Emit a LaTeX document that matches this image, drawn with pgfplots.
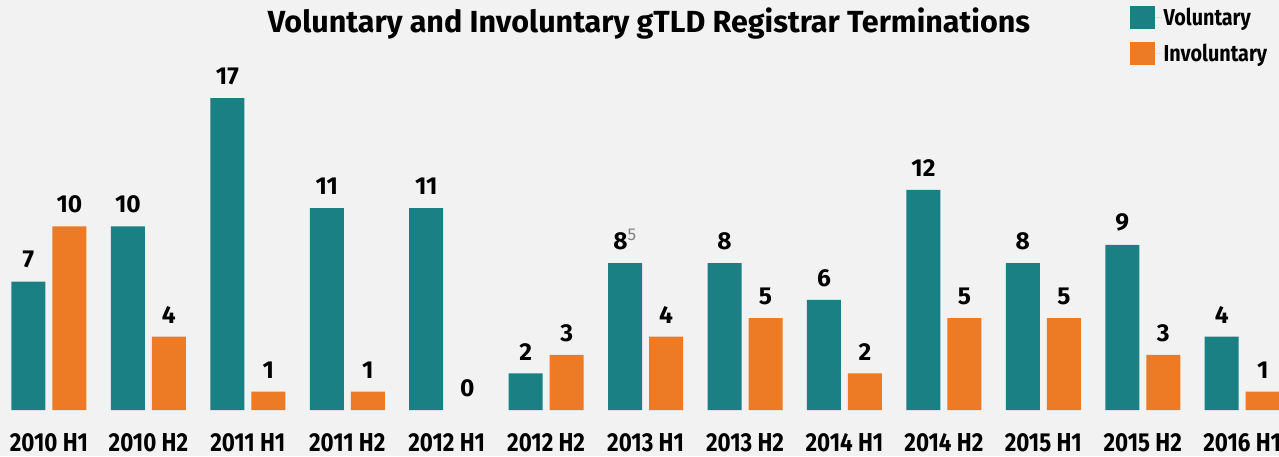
\documentclass[border=0pt]{standalone}
\usepackage{fontspec}
\setmainfont{Fira Sans}[FakeStretch=0.86]
\newfontfamily\widefont{Fira Sans}
\usepackage{pgfplots}
\pgfplotsset{compat=1.18}
\definecolor{vteal}{RGB}{27,128,131}
\definecolor{iorange}{RGB}{237,122,36}
\definecolor{bgc}{RGB}{242,242,242}
\begin{document}
\begin{tikzpicture}[x=1pt,y=1pt]
\fill[bgc] (0,0) rectangle (1279,456);
\useasboundingbox (0,0) rectangle (1279,456);
\begin{axis}[
  at={(0pt,46pt)}, anchor=south west,
  scale only axis, width=1279pt, height=410pt,
  xmin=-0.4925, xmax=12.37, ymin=0, ymax=22.34,
  axis line style={draw=none}, major tick length=0pt,
  ytick=\empty,
  xtick={0,...,12},
  xticklabels={2010 H1,2010 H2,2011 H1,2011 H2,2012 H1,2012 H2,2013 H1,2013 H2,2014 H1,2014 H2,2015 H1,2015 H2,2016 H1},
  xticklabel style={font=\bfseries\fontsize{26}{26}\selectfont, anchor=north, inner sep=0pt, yshift=-23pt},
  ybar, bar width=34pt,
  point meta=explicit symbolic,
  nodes near coords,
  nodes near coords style={font=\widefont\bfseries\fontsize{24.5}{24.5}\selectfont, text=black, anchor=south, inner sep=0pt, yshift=13pt},
  clip=false,
  legend style={draw=none, fill=none, anchor=north west, at={(axis description cs:0.883,0.985)}, font=\bfseries\fontsize{23}{23}\selectfont, row sep=13pt, inner sep=0pt},
  legend cell align=left,
  legend image code/.code={\path (0pt,0pt) -- (32pt,0pt); \fill[#1] (0pt,-11.5pt) rectangle (25pt,11.5pt);},
]
\addplot[fill=vteal, draw=none, bar shift=-20.5pt] coordinates {
 (0,7)[7] (1,10)[10] (2,17)[17] (3,11)[11] (4,11)[11] (5,2)[2]
 (6,8)[{8\textsuperscript{\textcolor{gray}{\mdseries 5}}}] (7,8)[8] (8,6)[6] (9,12)[12] (10,8)[8] (11,9)[9] (12,4)[4]
};
\addlegendentry{Voluntary}
\addplot[fill=iorange, draw=none, bar shift=20.5pt] coordinates {
 (0,10)[10] (1,4)[4] (2,1)[1] (3,1)[1] (5,3)[3]
 (6,4)[4] (7,5)[5] (8,2)[2] (9,5)[5] (10,5)[5] (11,3)[3] (12,1)[1]
};
\addlegendentry{Involuntary}
\addplot[draw=none, fill=none, bar shift=20.5pt, forget plot] coordinates {(4,0)[0]};
\end{axis}
\node[font=\widefont\bfseries\fontsize{30.5}{30.5}\selectfont, anchor=center, inner sep=0pt] at (649,432) {Voluntary and Involuntary gTLD Registrar Terminations};
\end{tikzpicture}
\end{document}
